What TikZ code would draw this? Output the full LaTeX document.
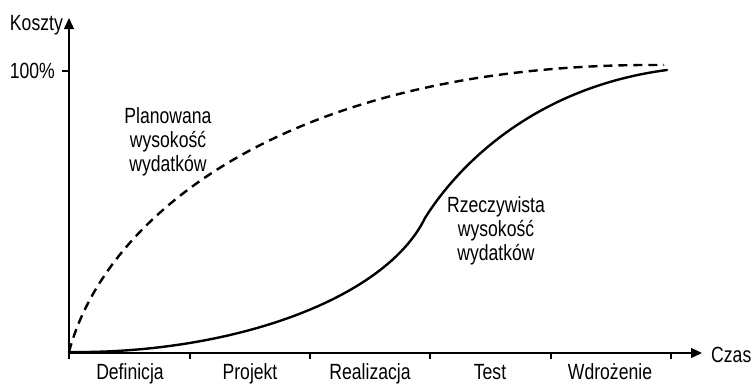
\documentclass[tikz,border=0pt]{standalone}
\usepackage{fontspec}
\setmainfont{Liberation Sans}[FakeStretch=0.8]
\usetikzlibrary{arrows.meta}

\begin{document}
\begin{tikzpicture}[x=1pt,y=-1pt,
  axis/.style={line width=1.3pt,-{Triangle[length=11pt,width=10pt]}},
  tickmark/.style={line width=1.1pt},
  actual/.style={line width=2.4pt,line cap=round},
  planned/.style={line width=2.4pt,dash pattern=on 9pt off 6pt},
  lbl/.style={font=\fontsize{22}{24}\selectfont,inner sep=0pt},
  phase/.style={lbl,anchor=base},
  curvelbl/.style={lbl,align=center}]

  % canvas
  \useasboundingbox (0,0) rectangle (754,383);

  % axes
  \coordinate (O) at (69,353);
  \coordinate (xend) at (702,353);
  \coordinate (yend) at (69,18);
  \draw[axis] (O) -- (xend);
  \draw[axis] (O) -- (yend);

  % 100% tick on the cost axis
  \coordinate (full) at (69,71);
  \coordinate (fullL) at (62,71);
  \draw[tickmark] (full) -- (fullL);

  % phase boundaries on the time axis
  \foreach \x [count=\i] in {69,190,310,430,551,671}{
    \coordinate (t\i) at (\x,353);
    \coordinate (b\i) at (\x,359);
    \draw[tickmark] (t\i) -- (b\i);
  }

  % axis labels
  \node[lbl,anchor=base east] (koszty) at (63,30) {Koszty};
  \node[lbl,anchor=base east] (pct) at (55,78) {100\%};
  \node[lbl,anchor=base west] (czas) at (711,362) {Czas};

  % phase names
  \node[phase] (p1) at (130,379) {Definicja};
  \node[phase] (p2) at (250,379) {Projekt};
  \node[phase] (p3) at (370,379) {Realizacja};
  \node[phase] (p4) at (490,379) {Test};
  \node[phase] (p5) at (610,379) {Wdrożenie};

  % planned spending (dashed)
  \coordinate (ps) at (69,352);
  \coordinate (pe) at (664,65);
  \draw[planned] (ps) .. controls (105,215) and (290,62) .. (pe);

  % actual spending (solid), S-shaped through the inflection point
  \coordinate (as) at (69,352);
  \coordinate (ai) at (425,218);
  \coordinate (ae) at (667,70);
  \draw[actual] (as) .. controls (230,354) and (385,300) .. (ai)
                     .. controls (455,170) and (530,88) .. (ae);

  % curve captions
  \node[curvelbl] (plan) at (168,142) {Planowana\\wysokość\\wydatków};
  \node[curvelbl] (real) at (496,231) {Rzeczywista\\wysokość\\wydatków};
\end{tikzpicture}
\end{document}
